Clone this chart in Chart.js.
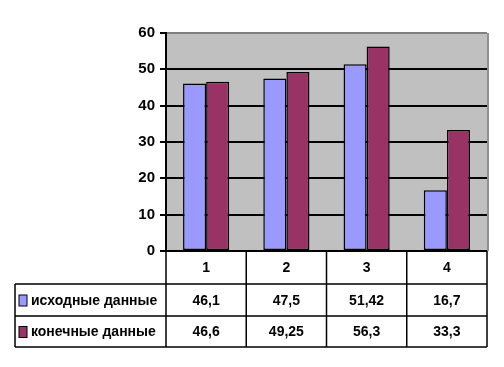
<!DOCTYPE html>
<html>
<head>
<meta charset="utf-8">
<script src="https://cdn.jsdelivr.net/npm/chart.js@4/dist/chart.umd.min.js"></script>
<style>
  html, body { margin: 0; padding: 0; background: #fff; }
  #wrap { width: 504px; height: 367px; }
</style>
</head>
<body>
<div id="wrap"><canvas id="salesChart" width="504" height="367"></canvas></div>
<script>
// data
const categories = ["1", "2", "3", "4"];
const seriesNames = ["исходные данные", "конечные данные"];
const initialValues = [46.1, 47.5, 51.42, 16.7];
const finalValues = [46.6, 49.25, 56.3, 33.3];
const yTicks = [0, 10, 20, 30, 40, 50, 60];

const seriesColors = ["#9999FF", "#993366"];
const font = "bold 14px 'Liberation Sans', Arial, sans-serif";

// number format like in the table: 46,1
function fmt(v) {
    return String(v).replace(".", ",");
}

// gray plot background
const plotBackground = {
    id: "plotBackground",
    beforeDraw(chart) {
        const a = chart.chartArea;
        const ctx = chart.ctx;
        ctx.save();
        ctx.fillStyle = "#C0C0C0";
        ctx.fillRect(a.left, a.top, a.right - a.left + 2, a.bottom - a.top);
        ctx.strokeStyle = "#808080";
        ctx.lineWidth = 1.5;
        ctx.beginPath();
        ctx.moveTo(a.right + 1, a.top);
        ctx.lineTo(a.right + 1, a.bottom);
        ctx.stroke();
        ctx.restore();
    }
};

// Excel style data table under the chart
const dataTable = {
    id: "dataTable",
    afterDraw(chart) {
        const ctx = chart.ctx;
        const x = chart.scales.x;
        const a = chart.chartArea;
        const rows = [a.bottom, a.bottom + 33, a.bottom + 65, a.bottom + 96];
        const tableLeft = 15;
        const step = (x.right - x.left) / categories.length;
        const cols = categories.map((c, i) => x.left + i * step);
        cols.push(x.right);

        ctx.save();
        ctx.strokeStyle = "#000";
        ctx.lineWidth = 1.5;
        ctx.beginPath();
        for (let r = 1; r < rows.length; r++) {
            ctx.moveTo(tableLeft, rows[r]);
            ctx.lineTo(x.right, rows[r]);
        }
        ctx.moveTo(tableLeft, rows[1]);
        ctx.lineTo(tableLeft, rows[3]);
        cols.forEach(cx => {
            ctx.moveTo(cx, rows[0]);
            ctx.lineTo(cx, rows[3]);
        });
        ctx.stroke();

        ctx.font = font;
        ctx.fillStyle = "#000";
        ctx.textAlign = "center";
        ctx.textBaseline = "middle";
        const dataRows = [initialValues, finalValues];
        categories.forEach((c, i) => {
            const cx = x.getPixelForValue(i);
            ctx.fillText(c, cx, (rows[0] + rows[1]) / 2 + 1);
            dataRows.forEach((vals, r) => {
                ctx.fillText(fmt(vals[i]), cx, (rows[r + 1] + rows[r + 2]) / 2 + 1);
            });
        });

        // legend keys + series names
        ctx.textAlign = "left";
        seriesNames.forEach((name, r) => {
            const my = (rows[r + 1] + rows[r + 2]) / 2;
            ctx.fillStyle = seriesColors[r];
            ctx.fillRect(19, my - 5, 8, 11);
            ctx.lineWidth = 1;
            ctx.strokeRect(19, my - 5, 8, 11);
            ctx.fillStyle = "#000";
            ctx.fillText(name, 31, my + 1);
        });
        ctx.restore();
    }
};

const ctx = document.getElementById("salesChart").getContext("2d");

new Chart(ctx, {
    type: "bar",
    data: {
        labels: categories,
        datasets: [{
            label: seriesNames[0],
            data: initialValues,
            backgroundColor: seriesColors[0],
            borderColor: "#000",
            borderWidth: 1.5,
            borderSkipped: false
        }, {
            label: seriesNames[1],
            data: finalValues,
            backgroundColor: seriesColors[1],
            borderColor: "#000",
            borderWidth: 1.5,
            borderSkipped: false
        }]
    },
    options: {
        responsive: false,
        animation: false,
        layout: {
            padding: { left: 0, top: 33, right: 17, bottom: 116 }
        },
        datasets: {
            bar: { categoryPercentage: 0.575, barPercentage: 1 }
        },
        plugins: {
            legend: { display: false },
            tooltip: { enabled: false }
        },
        scales: {
            x: {
                display: false
            },
            y: {
                min: 0,
                max: 60,
                afterFit(scale) { scale.width = 166; },
                afterBuildTicks(scale) { scale.ticks = yTicks.map(v => ({ value: v })); },
                ticks: {
                    color: "#000",
                    padding: 5,
                    font: { family: "'Liberation Sans', Arial, sans-serif", size: 15, weight: "bold" }
                },
                grid: {
                    color: c => (c.tick && c.tick.value === 60 ? "#808080" : "#000"),
                    lineWidth: 2,
                    tickColor: "#000",
                    tickLength: 6
                },
                border: { color: "#000", width: 2 }
            }
        }
    },
    plugins: [plotBackground, dataTable]
});
</script>
</body>
</html>
